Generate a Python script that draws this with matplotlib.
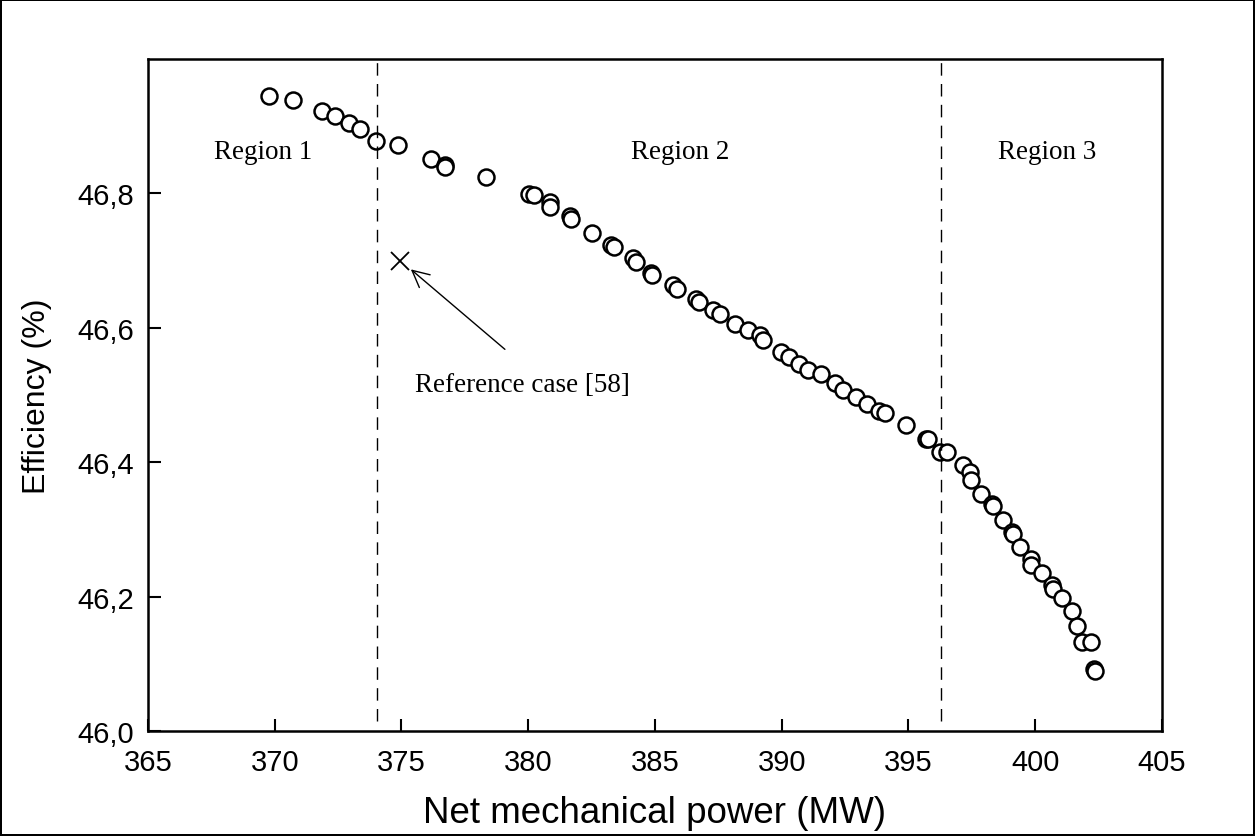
import matplotlib.pyplot as plt

# Net mechanical power (MW) and efficiency (%) of the computed cases
power = [369.77, 370.72, 371.86, 372.38, 372.93, 373.36, 373.99, 374.86,
         376.16, 376.70, 376.72, 378.33, 380.03, 380.23, 380.86, 380.86,
         381.65, 381.69, 382.52, 383.27, 383.38, 384.13, 384.25, 384.86,
         384.88, 385.71, 385.87, 386.62, 386.74, 387.29, 387.56, 388.16,
         388.67, 389.14, 389.26, 389.97, 390.29, 390.68, 391.04, 391.55,
         392.10, 392.42, 392.93, 393.36, 393.84, 394.07, 394.90, 395.69,
         395.77, 396.24, 396.52, 397.15, 397.43, 397.47, 397.86, 398.29,
         398.33, 398.73, 399.08, 399.12, 399.40, 399.83, 399.83, 400.27,
         400.66, 400.70, 401.06, 401.45, 401.65, 401.84, 402.20, 402.32,
         402.34]
efficiency = [46.945, 46.939, 46.923, 46.915, 46.905, 46.896, 46.878, 46.872,
              46.851, 46.843, 46.839, 46.824, 46.799, 46.798, 46.787, 46.780,
              46.766, 46.762, 46.741, 46.723, 46.720, 46.704, 46.698, 46.681,
              46.679, 46.664, 46.658, 46.643, 46.638, 46.626, 46.621, 46.606,
              46.597, 46.589, 46.582, 46.564, 46.557, 46.546, 46.537, 46.531,
              46.518, 46.507, 46.497, 46.487, 46.476, 46.473, 46.455, 46.435,
              46.434, 46.415, 46.415, 46.396, 46.385, 46.374, 46.353, 46.338,
              46.335, 46.314, 46.296, 46.293, 46.274, 46.256, 46.247, 46.235,
              46.218, 46.211, 46.198, 46.179, 46.156, 46.132, 46.132, 46.093,
              46.090]

ref_power = 374.94
ref_eff = 46.70
ref_label = "Reference case [58]"

region_bounds = [374.04, 396.3]
region_names = ["Region 1", "Region 2", "Region 3"]
region_x = [369.54, 386.0, 400.46]

xticks = [365, 370, 375, 380, 385, 390, 395, 400, 405]
yticks = [46.0, 46.2, 46.4, 46.6, 46.8]
ytick_labels = ["46,0", "46,2", "46,4", "46,6", "46,8"]

fig = plt.figure(figsize=(12.55, 8.37), dpi=100)
fig.patch.set_edgecolor("black")
fig.patch.set_linewidth(1.5)
ax = fig.add_axes([0.1179, 0.1254, 0.808, 0.8029])

# the scatter of cases
ax.plot(power, efficiency, linestyle="none", marker="o", markersize=11.5,
        markerfacecolor="white", markeredgecolor="black", markeredgewidth=1.8)

# reference case and its arrow
ax.plot([ref_power], [ref_eff], linestyle="none", marker="x", markersize=13,
        color="black", markeredgewidth=1.3)
ax.annotate("", xy=(375.37, 46.687), xytext=(379.08, 46.568),
            arrowprops=dict(arrowstyle="->", color="black", lw=1.0,
                            mutation_scale=30, shrinkA=0, shrinkB=0))
ax.text(375.53, 46.515, ref_label, fontsize=19.5, family="Liberation Serif",
        ha="left", va="center")

# region borders
for xb in region_bounds:
    ax.axvline(xb, ymin=0.015, ymax=1.0, color="black", linestyle=(0, (9, 6)),
               linewidth=1.0)
for name, xr in zip(region_names, region_x):
    ax.text(xr, 46.863, name, fontsize=19.5, family="Liberation Serif",
            ha="center", va="center")

ax.set_xlim(365, 405)
ax.set_ylim(46.0, 47.0)
ax.set_xticks(xticks)
ax.set_yticks(yticks)
ax.set_yticklabels(ytick_labels)
ax.tick_params(direction="in", length=9, width=1.5, labelsize=21,
               pad=10, labelfontfamily="Liberation Sans")
ax.tick_params(axis="x", pad=12)
for side in ["top", "right", "bottom", "left"]:
    ax.spines[side].set_linewidth(1.8)

ax.set_xlabel("Net mechanical power (MW)", fontsize=26.5,
              family="Liberation Sans", labelpad=14)
ax.set_ylabel("Efficiency (%)", fontsize=23, family="Liberation Sans",
              labelpad=18)

fig.savefig("out.png", dpi=100, edgecolor=fig.get_edgecolor())
